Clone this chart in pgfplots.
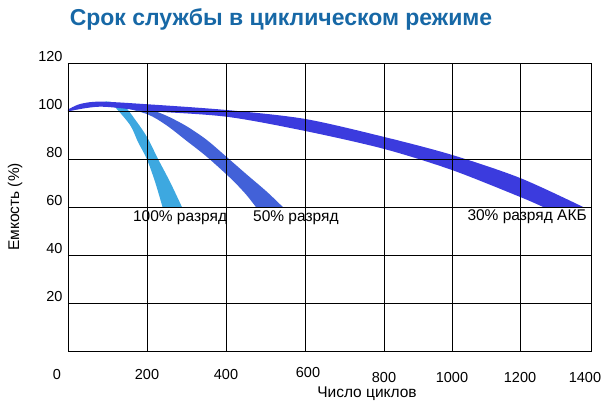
\documentclass[border=0pt]{standalone}
\usepackage{fontspec}
\setmainfont{Liberation Sans}
\usepackage{pgfplots}
\pgfplotsset{compat=1.18}
\usepgfplotslibrary{fillbetween}
\definecolor{cA}{RGB}{61,168,224}
\definecolor{cB}{RGB}{66,97,216}
\definecolor{cC}{RGB}{59,59,222}
\definecolor{ctitle}{RGB}{23,104,166}
\begin{document}
\begin{tikzpicture}
\begin{axis}[
  width=523pt, height=288pt, scale only axis,
  xmin=0, xmax=1400, ymin=0, ymax=120,
  xtick={0,211.5,422.9,634.4,845.9,1027.9,1210,1400},
  xticklabels={{\hspace*{-22pt}0},200,400,{\hspace*{6pt}\raisebox{2pt}{600}},{\raisebox{-3pt}{800}},{\raisebox{-3pt}{1000}},{\raisebox{-3pt}{1200}},{\hspace*{-12pt}\raisebox{-3pt}{1400}}},
  ytick={20,40,60,80,100,120},
  grid=major,
  major grid style={black, line width=0.8pt},
  axis line style={black, line width=0.8pt},
  major tick length=0pt,
  tick label style={font=\fontsize{14.5}{16}\selectfont},
  /pgf/number format/assume math mode=true,
  yticklabel style={anchor=base east, yshift=1pt, xshift=-2pt},
  xticklabel style={anchor=base, yshift=-29pt},
  axis on top,
  clip=true,
]
\coordinate (sw) at (rel axis cs:0,0);
% 100% discharge
\addplot[name path=A1, draw=none, smooth] coordinates {(100,104.0) (147,102.5) (184,95.5) (213,88.75) (241,80) (273,70.5) (305,60)};
\addplot[name path=A2, draw=none, smooth] coordinates {(100,103.6) (120,102.5) (166,94.2) (187,87.2) (211,80) (233,70.5) (253,60)};
\addplot[cA] fill between[of=A1 and A2];
% 50% discharge
\addplot[name path=B1, draw=none, smooth] coordinates {(139,102.3) (213.4,100.8) (264,98.0) (318,93.6) (371,88.0) (425,80.8) (478,73.6) (532,66.4) (575,60)};
\addplot[name path=B2, draw=none, smooth] coordinates {(139,101.8) (213.4,98.6) (264,94.0) (318,87.5) (371,81.0) (435,72) (475,65.5) (503,60)};
\addplot[cB] fill between[of=B1 and B2];
% 30% discharge
\addplot[name path=C1, draw=none, smooth] coordinates {(0,100.6) (32,102.9) (86,103.9) (213,102.8) (425,100.4) (634,96.7) (846,89.2) (1028,81.7) (1210,72.1) (1379,60)};
\addplot[name path=C2, draw=none, smooth] coordinates {(0,99.8) (86,101.8) (213,100.0) (425,97.6) (634,91.7) (846,84.2) (1028,75.4) (1210,64.2) (1272,60)};
\addplot[cC] fill between[of=C1 and C2];
\coordinate (l100) at (axis cs:300,55.4);
\coordinate (l50) at (axis cs:610,55.4);
\coordinate (l30) at (axis cs:1229,55.8);
\end{axis}
\node[font=\fontsize{15.5}{17}\selectfont, inner sep=1pt] at (l100) {100\% разряд};
\node[font=\fontsize{15.5}{17}\selectfont, inner sep=1pt] at (l50) {50\% разряд};
\node[font=\fontsize{15.5}{17}\selectfont, fill=white, inner xsep=6pt, inner ysep=3pt] at (l30) {30\% разряд АКБ};
\node[font=\fontsize{15.5}{17}\selectfont, rotate=90] at ([shift={(-53pt,144pt)}]sw) {Емкость (\%)};
\node[font=\fontsize{15.5}{17}\selectfont] at ([shift={(299pt,-43pt)}]sw) {Число циклов};
\node[font=\bfseries\fontsize{23}{27}\selectfont, text=ctitle] at ([shift={(213pt,332pt)}]sw) {Срок службы в циклическом режиме};
\pgfresetboundingbox
\path ([shift={(-68pt,-63pt)}]sw) rectangle ++(608pt,414pt);
\end{tikzpicture}
\end{document}
